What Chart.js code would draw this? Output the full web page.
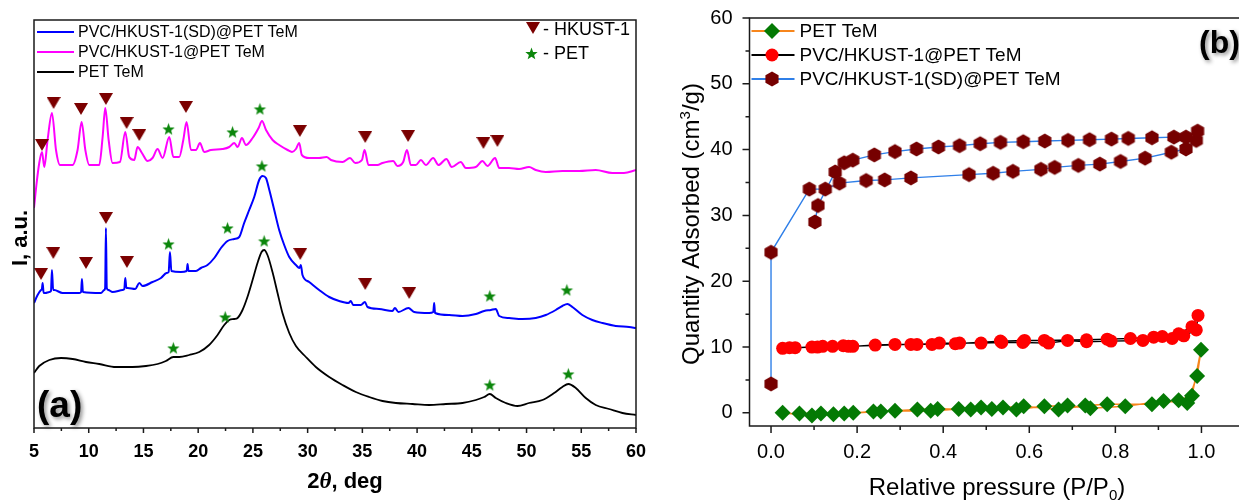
<!DOCTYPE html>
<html>
<head>
<meta charset="utf-8">
<script src="https://cdn.jsdelivr.net/npm/chart.js@4.4.1/dist/chart.umd.min.js"></script>
<style>
html, body { margin: 0; padding: 0; overflow: hidden; background: #fff; width: 1239px; height: 500px; }
canvas { position: absolute; top: 0; }
#painel-a { left: 0; }
#painel-b { left: 640px; }
</style>
</head>
<body>
<canvas id="painel-a" width="660" height="500"></canvas>
<canvas id="painel-b" width="610" height="500"></canvas>
<script>
// ---------- (a) Difratogramas: 2θ (graus) x intensidade (u.a.) ----------
const doisTetaPET = [
    5.00, 5.48, 6.40, 7.47, 8.53, 9.75, 10.96, 12.49, 14.00, 15.23,
    16.29, 17.05, 17.73, 18.27, 19.18, 20.10, 21.00, 21.77, 22.38, 22.84,
    23.30, 23.60, 24.05, 24.50, 24.97, 25.42, 25.79, 26.03, 26.33, 26.79,
    27.25, 27.70, 28.32, 28.93, 29.84, 30.75, 31.97, 33.19, 34.40, 35.62,
    36.84, 38.06, 39.58, 41.10, 42.63, 44.15, 45.37, 46.13, 46.64, 47.19,
    48.10, 49.17, 50.23, 51.45, 52.52, 53.27, 53.82, 54.50, 55.41, 56.32,
    57.54, 58.76, 60.00
];
const intensPET = [
    55, 62, 68, 70, 69, 66, 64, 61, 61, 62,
    64, 67, 71, 71, 73, 76, 83, 93, 103, 108,
    109, 110, 118, 131, 148, 165, 176, 178, 173, 156,
    135, 115, 95, 82, 71, 61, 51, 43, 36, 31,
    27, 25, 24, 23, 24, 25, 28, 31, 34, 30,
    25, 22, 25, 28, 35, 41, 44, 40, 30, 23,
    19, 15, 13
];

// PVC/HKUST-1@PET TeM
const doisTetaHK = [
    5.00, 5.24, 5.48, 5.73, 5.94, 6.24, 6.64, 7.01, 7.37, 8.53,
    8.98, 9.35, 9.69, 10.05, 10.96, 11.27, 11.51, 11.82, 12.18, 12.85,
    13.34, 13.70, 14.16, 14.46, 14.86, 15.38, 15.83, 16.29, 16.75, 17.36,
    17.73, 18.27, 18.64, 18.94, 19.34, 19.80, 20.16, 20.55, 21.16, 22.22,
    22.84, 23.30, 23.60, 24.00, 24.36, 24.97, 25.52, 25.83, 26.20, 26.80,
    27.40, 28.17, 28.57, 28.93, 29.23, 29.47, 30.14, 31.05, 31.73, 32.13,
    33.19, 33.87, 34.35, 34.96, 35.20, 35.56, 36.38, 36.84, 37.82, 38.20,
    38.73, 39.07, 39.43, 39.89, 40.35, 40.80, 41.47, 41.95, 42.68, 43.17,
    43.99, 44.45, 45.36, 45.97, 46.43, 47.13, 47.50, 48.40, 49.32, 50.23,
    50.84, 51.76, 53.27, 54.80, 56.32, 57.84, 58.90, 60.00
];
const intensHK = [
    220, 245, 265, 276, 261, 288, 315, 278, 263, 263,
    278, 306, 278, 263, 263, 291, 320, 288, 265, 266,
    296, 271, 268, 281, 275, 267, 270, 279, 270, 291,
    271, 271, 288, 306, 278, 278, 285, 276, 278, 279,
    281, 285, 281, 290, 283, 290, 300, 307, 298, 288,
    283, 278, 276, 279, 285, 273, 270, 270, 271, 268,
    266, 270, 265, 268, 278, 263, 263, 265, 267, 262,
    266, 278, 263, 263, 268, 263, 270, 263, 269, 261,
    266, 260, 261, 267, 262, 270, 260, 260, 259, 261,
    258, 256, 257, 257, 258, 255, 255, 258
];

// PVC/HKUST-1(SD)@PET TeM
const doisTetaSD = [
    5.00, 5.33, 5.64, 5.72, 5.79, 5.88, 6.03, 6.40, 6.55, 6.64,
    6.75, 6.85, 7.61, 9.14, 9.30, 9.38, 9.47, 11.12, 11.42, 11.50,
    11.57, 11.65, 11.79, 12.18, 13.09, 13.25, 13.34, 13.44, 13.55, 14.25,
    14.62, 14.92, 15.83, 16.60, 17.11, 17.30, 17.42, 17.55, 18.42, 18.95,
    19.03, 19.12, 19.80, 20.25, 20.85, 21.47, 22.08, 22.68, 23.29, 23.75,
    24.20, 24.66, 25.12, 25.57, 25.88, 26.19, 26.50, 26.95, 27.40, 27.86,
    28.32, 28.93, 29.25, 29.38, 29.53, 30.14, 31.05, 31.97, 32.88, 33.73,
    33.95, 34.16, 34.86, 35.23, 35.47, 36.53, 37.75, 37.97, 38.30, 39.21,
    39.73, 41.10, 41.48, 41.56, 41.64, 42.93, 44.15, 45.37, 46.13, 46.74,
    47.19, 47.50, 48.41, 49.62, 50.84, 51.76, 52.67, 53.27, 53.73, 54.19,
    55.10, 56.01, 56.93, 58.15, 59.37, 60.00
];
const intensSD = [
    125, 133, 138, 139, 145, 135, 135, 136, 137, 158,
    138, 138, 135, 135, 136, 149, 136, 135, 138, 140,
    200, 140, 138, 136, 138, 139, 150, 140, 140, 139,
    145, 142, 146, 150, 155, 156, 176, 157, 156, 157,
    164, 157, 157, 160, 163, 170, 180, 187, 189, 191,
    205, 218, 231, 248, 252, 250, 238, 218, 198, 183,
    171, 163, 160, 163, 153, 146, 138, 131, 127, 125,
    127, 123, 123, 126, 121, 119, 117, 120, 116, 120,
    116, 115, 116, 125, 115, 113, 112, 114, 117, 118,
    119, 112, 110, 109, 110, 113, 118, 122, 124, 121,
    113, 108, 105, 102, 101, 100
];

// picos identificados: ▼ HKUST-1 e ★ PET
const hkustX = [5.73, 6.79, 9.29, 11.57, 13.46, 14.62, 18.88, 29.29, 35.26, 39.18, 46.06, 47.34,
                5.64, 6.76, 9.75, 11.57, 13.49, 29.32, 35.26, 39.28];
const hkustY = [283, 325, 319, 329, 305, 293, 321, 297, 291, 292, 285, 287,
                154, 175, 165, 210, 166, 174, 144, 135];
const petX = [17.29, 23.14, 25.64, 17.29, 22.68, 25.82, 46.64, 53.68, 17.73, 22.47, 26.03, 46.64, 53.82];
const petY = [299, 296, 319, 184, 200, 262, 132, 138, 80, 111, 187, 43, 54];

const ticksDoisTeta = [5, 10, 15, 20, 25, 30, 35, 40, 45, 50, 55, 60];

// ---------- (b) Isotermas: P/P0 x quantidade adsorvida (cm3/g) ----------
// adsorção (crescente) seguida da dessorção (decrescente)
const pressaoPET = [0.027, 0.095, 0.145, 0.191, 0.255, 0.340, 0.387, 0.464, 0.513, 0.570, 0.635, 0.689,
                    0.742, 0.823, 0.912, 0.967, 0.990, 0.999,
                    0.978, 0.947, 0.885, 0.781, 0.730, 0.668, 0.587, 0.539, 0.488, 0.436, 0.371, 0.288,
                    0.238, 0.170, 0.116, 0.066];
const quantPET = [0.0, -0.4, -0.2, 0.0, 0.2, 0.5, 0.6, 0.5, 0.6, 0.5, 1.0, 1.1,
                  0.7, 1.0, 1.8, 1.5, 5.6, 9.6,
                  2.6, 1.9, 1.3, 1.3, 1.1, 0.5, 1.0, 0.8, 0.8, 0.6, 0.3, 0.3,
                  0.2, -0.1, -0.1, -0.1];

const pressaoHK = [0.027, 0.043, 0.056, 0.095, 0.120, 0.143, 0.168, 0.190, 0.242, 0.288, 0.339, 0.391,
                   0.438, 0.488, 0.536, 0.585, 0.645, 0.689, 0.733, 0.790, 0.864, 0.909, 0.947, 0.978, 0.992,
                   0.988, 0.959, 0.932, 0.889, 0.835, 0.781, 0.733, 0.635, 0.589, 0.533, 0.428, 0.374,
                   0.325, 0.180, 0.108];
const quantHK = [9.8, 9.9, 9.9, 10.0, 10.1, 10.1, 10.2, 10.1, 10.3, 10.4, 10.4, 10.6,
                 10.6, 10.6, 10.7, 10.7, 10.6, 11.0, 10.8, 10.9, 11.0, 11.6, 12.0, 13.1, 14.8,
                 12.6, 11.7, 11.3, 11.5, 11.3, 11.2, 11.1, 11.0, 11.0, 10.9, 10.5, 10.4,
                 10.4, 10.1, 10.0];

const pressaoSD = [0, 0, 0.089, 0.126, 0.159, 0.221, 0.264, 0.325, 0.460, 0.516, 0.562, 0.627,
                   0.659, 0.714, 0.764, 0.812, 0.869, 0.930, 0.964, 0.988, 0.991,
                   0.964, 0.936, 0.885, 0.830, 0.791, 0.740, 0.690, 0.636, 0.586, 0.533, 0.486,
                   0.438, 0.389, 0.338, 0.288, 0.240, 0.190, 0.170, 0.149, 0.109, 0.102];
const quantSD = [4.4, 24.4, 34.0, 34.0, 34.9, 35.3, 35.4, 35.7, 36.2, 36.4, 36.7, 37.0,
                 37.3, 37.6, 37.8, 38.2, 38.7, 39.6, 40.1, 41.4, 42.8,
                 41.9, 41.9, 41.8, 41.7, 41.6, 41.5, 41.4, 41.3, 41.2, 41.1, 40.9,
                 40.6, 40.4, 40.1, 39.7, 39.2, 38.4, 38.0, 36.6, 31.5, 29.0];

const ticksPressao = [0, 0.2, 0.4, 0.6, 0.8, 1.0];
const ticksQuantidade = [0, 10, 20, 30, 40, 50, 60];

const FONTE = '"Liberation Sans", Arial, sans-serif';

// Junta x e y em pontos {x, y}
function pares(xs, ys) {
    return xs.map((x, i) => ({ x: x, y: ys[i] }));
}

// Marcadores desenhados em pequenos canvas
function criarTriangulo(largura, altura, cor) {
    const c = document.createElement('canvas');
    c.width = largura; c.height = altura;
    const g = c.getContext('2d');
    g.fillStyle = cor;
    g.beginPath();
    g.moveTo(0, 0); g.lineTo(largura, 0); g.lineTo(largura / 2, altura);
    g.closePath(); g.fill();
    return c;
}

function criarEstrela(raio, cor) {
    const c = document.createElement('canvas');
    const s = Math.ceil(raio * 2 + 2);
    c.width = s; c.height = s;
    const g = c.getContext('2d');
    g.fillStyle = cor;
    g.beginPath();
    for (let i = 0; i < 10; i++) {
        const r = i % 2 === 0 ? raio : raio * 0.42;
        const ang = -Math.PI / 2 + i * Math.PI / 5;
        g.lineTo(s / 2 + r * Math.cos(ang), s / 2 + 0.6 + r * Math.sin(ang));
    }
    g.closePath(); g.fill();
    return c;
}

function criarHexagono(raio, cor) {
    const c = document.createElement('canvas');
    const s = Math.ceil(raio * 2 + 2);
    c.width = s; c.height = s;
    const g = c.getContext('2d');
    g.fillStyle = cor;
    g.beginPath();
    for (let i = 0; i < 6; i++) {
        const ang = -Math.PI / 2 + i * Math.PI / 3;
        g.lineTo(s / 2 + raio * Math.cos(ang), s / 2 + raio * Math.sin(ang));
    }
    g.closePath(); g.fill();
    return c;
}

const imgTriangulo = criarTriangulo(14, 12, '#7b0000');
const imgEstrela = criarEstrela(6.5, '#0b860b');
const imgHexagono = criarHexagono(7.6, '#760000');

// Texto com partes de fontes diferentes (índices, símbolos), centrado em x
function escreverPartes(ctx, partes, xCentro, yBase) {
    let total = 0;
    partes.forEach(p => { ctx.font = p.fonte; total += ctx.measureText(p.texto).width; });
    let x = xCentro - total / 2;
    ctx.textAlign = 'left';
    ctx.textBaseline = 'alphabetic';
    partes.forEach(p => {
        ctx.font = p.fonte;
        ctx.fillText(p.texto, x, yBase + (p.dy || 0));
        x += ctx.measureText(p.texto).width;
    });
}

// ---------- Painel (a) ----------
const curvaSD = {
    label: 'PVC/HKUST-1(SD)@PET TeM', data: pares(doisTetaSD, intensSD),
    borderColor: '#0000ff', borderWidth: 2, pointRadius: 0, cubicInterpolationMode: 'monotone'
};
const curvaHK = {
    label: 'PVC/HKUST-1@PET TeM', data: pares(doisTetaHK, intensHK),
    borderColor: '#ff00ff', borderWidth: 2, pointRadius: 0, cubicInterpolationMode: 'monotone'
};
const curvaPET = {
    label: 'PET TeM', data: pares(doisTetaPET, intensPET),
    borderColor: '#000000', borderWidth: 1.8, pointRadius: 0, cubicInterpolationMode: 'monotone'
};

const decoracaoA = {
    id: 'decoracaoA',
    afterDraw(chart) {
        const ctx = chart.ctx;
        const a = chart.chartArea;
        const ex = chart.scales.x;
        ctx.save();
        ctx.fillStyle = '#000';

        // moldura
        ctx.strokeStyle = '#1a1a1a';
        ctx.lineWidth = 1.5;
        ctx.strokeRect(a.left, a.top, a.right - a.left, a.bottom - a.top);

        // marcas do eixo x
        ctx.beginPath();
        ticksDoisTeta.forEach((v, i) => {
            const px = ex.getPixelForValue(v);
            ctx.moveTo(px, a.bottom); ctx.lineTo(px, a.bottom + 5);
            if (i < ticksDoisTeta.length - 1) {
                const pm = ex.getPixelForValue(v + 2.5);
                ctx.moveTo(pm, a.bottom); ctx.lineTo(pm, a.bottom + 3);
            }
        });
        ctx.stroke();

        // legenda das curvas
        ctx.font = '16px ' + FONTE;
        ctx.textAlign = 'left';
        ctx.textBaseline = 'middle';
        [curvaSD, curvaHK, curvaPET].forEach((c, i) => {
            const y = a.top + 12 + i * 20;
            ctx.strokeStyle = c.borderColor;
            ctx.lineWidth = 2;
            ctx.beginPath();
            ctx.moveTo(a.left + 3, y); ctx.lineTo(a.left + 40, y);
            ctx.stroke();
            ctx.fillText(c.label, a.left + 44, y + 1);
        });

        // legenda dos símbolos
        ctx.font = '18px ' + FONTE;
        ctx.drawImage(imgTriangulo, 526, 22);
        ctx.fillText('- HKUST-1', 543, 30);
        ctx.drawImage(imgEstrela, 524, 46);
        ctx.fillText('- PET', 543, 54);

        // títulos dos eixos
        escreverPartes(ctx, [
            { texto: '2', fonte: 'bold 22px ' + FONTE },
            { texto: 'θ', fonte: 'italic bold 23px "Liberation Serif", serif' },
            { texto: ', deg', fonte: 'bold 22px ' + FONTE }
        ], (a.left + a.right) / 2 + 10, 488);

        ctx.save();
        ctx.translate(27, 238);
        ctx.rotate(-Math.PI / 2);
        ctx.font = 'bold 22px ' + FONTE;
        ctx.textAlign = 'center';
        ctx.textBaseline = 'alphabetic';
        ctx.fillText('I, a.u.', 0, 0);
        ctx.restore();

        // rótulo do painel
        ctx.save();
        ctx.shadowColor = 'rgba(0,0,0,0.45)';
        ctx.shadowBlur = 4;
        ctx.shadowOffsetX = 2;
        ctx.shadowOffsetY = 2;
        ctx.font = 'bold 37px ' + FONTE;
        ctx.textAlign = 'left';
        ctx.textBaseline = 'alphabetic';
        ctx.fillText('(a)', a.left + 3, 417);
        ctx.restore();

        ctx.restore();
    }
};

new Chart(document.getElementById('painel-a'), {
    type: 'line',
    data: {
        datasets: [
            { label: 'HKUST-1', data: pares(hkustX, hkustY), showLine: false, pointStyle: imgTriangulo, pointRadius: 7 },
            { label: 'PET', data: pares(petX, petY), showLine: false, pointStyle: imgEstrela, pointRadius: 7 },
            curvaSD, curvaHK, curvaPET
        ]
    },
    options: {
        responsive: false,
        animation: false,
        events: [],
        layout: { autoPadding: false, padding: { left: 0, top: 20, right: 24, bottom: 0 } },
        scales: {
            x: {
                type: 'linear', min: 5, max: 60,
                afterBuildTicks: s => { s.ticks = ticksDoisTeta.map(v => ({ value: v })); },
                afterFit: s => { s.height = 72; s.paddingLeft = 0; s.paddingRight = 0; },
                grid: { display: false },
                border: { display: false },
                ticks: { color: '#000', padding: 5, font: { family: FONTE, size: 18, weight: 'bold' }, maxRotation: 0 }
            },
            y: {
                min: 0, max: 408,
                afterFit: s => { s.width = 34; s.paddingTop = 0; s.paddingBottom = 0; },
                grid: { display: false },
                border: { display: false },
                ticks: { display: false }
            }
        },
        plugins: { legend: { display: false }, tooltip: { enabled: false } }
    },
    plugins: [decoracaoA]
});

// ---------- Painel (b) ----------
const serieB = [
    {
        label: 'PET TeM', data: pares(pressaoPET, quantPET),
        borderColor: '#f7861c', borderWidth: 1.6,
        pointStyle: 'rectRot', pointRadius: 8, pointBackgroundColor: '#047a04', pointBorderWidth: 0
    },
    {
        label: 'PVC/HKUST-1@PET TeM', data: pares(pressaoHK, quantHK),
        borderColor: '#000000', borderWidth: 1.4,
        pointStyle: 'circle', pointRadius: 6.5, pointBackgroundColor: '#ff0000', pointBorderWidth: 0
    },
    {
        label: 'PVC/HKUST-1(SD)@PET TeM', data: pares(pressaoSD, quantSD),
        borderColor: '#2f7fe8', borderWidth: 1.4,
        pointStyle: imgHexagono, pointRadius: 7
    }
];

const decoracaoB = {
    id: 'decoracaoB',
    afterDraw(chart) {
        const ctx = chart.ctx;
        const a = chart.chartArea;
        const ex = chart.scales.x;
        const ey = chart.scales.y;
        ctx.save();
        ctx.fillStyle = '#000';

        // moldura
        ctx.strokeStyle = '#1a1a1a';
        ctx.lineWidth = 1.5;
        ctx.strokeRect(a.left, a.top, a.right - a.left, a.bottom - a.top);

        // marcas dos eixos
        ctx.beginPath();
        ticksPressao.forEach(v => {
            const px = ex.getPixelForValue(v);
            ctx.moveTo(px, a.bottom); ctx.lineTo(px, a.bottom + 7);
            const pm = ex.getPixelForValue(v + 0.1);
            ctx.moveTo(pm, a.bottom); ctx.lineTo(pm, a.bottom + 4);
        });
        ticksQuantidade.forEach((v, i) => {
            const py = ey.getPixelForValue(v);
            ctx.moveTo(a.left, py); ctx.lineTo(a.left - 7, py);
            if (i < ticksQuantidade.length - 1) {
                const pm = ey.getPixelForValue(v + 5);
                ctx.moveTo(a.left, pm); ctx.lineTo(a.left - 4, pm);
            }
        });
        ctx.stroke();

        // legenda
        ctx.font = '19px ' + FONTE;
        ctx.textAlign = 'left';
        ctx.textBaseline = 'middle';
        serieB.forEach((s, i) => {
            const y = a.top + 13 + i * 24;
            const xm = a.left + 22.5;
            ctx.strokeStyle = s.borderColor;
            ctx.lineWidth = 1.8;
            ctx.beginPath();
            ctx.moveTo(a.left + 2, y); ctx.lineTo(a.left + 45, y);
            ctx.stroke();
            if (s.pointStyle === 'rectRot') {
                ctx.fillStyle = s.pointBackgroundColor;
                ctx.beginPath();
                ctx.moveTo(xm, y - 8); ctx.lineTo(xm + 8, y); ctx.lineTo(xm, y + 8); ctx.lineTo(xm - 8, y);
                ctx.closePath(); ctx.fill();
            } else if (s.pointStyle === 'circle') {
                ctx.fillStyle = s.pointBackgroundColor;
                ctx.beginPath();
                ctx.arc(xm, y, 6.5, 0, Math.PI * 2);
                ctx.fill();
            } else {
                ctx.drawImage(s.pointStyle, xm - s.pointStyle.width / 2, y - s.pointStyle.height / 2);
            }
            ctx.fillStyle = '#000';
            ctx.fillText(s.label, a.left + 50, y + 1);
        });

        // títulos dos eixos
        escreverPartes(ctx, [
            { texto: 'Relative pressure (P/P', fonte: '24px ' + FONTE },
            { texto: '0', fonte: '15px ' + FONTE, dy: 5 },
            { texto: ')', fonte: '24px ' + FONTE }
        ], (a.left + a.right) / 2, 495);

        ctx.save();
        ctx.translate(59, (a.top + a.bottom) / 2 + 2);
        ctx.rotate(-Math.PI / 2);
        escreverPartes(ctx, [
            { texto: 'Quantity Adsorbed (cm', fonte: '24px ' + FONTE },
            { texto: '3', fonte: '15px ' + FONTE, dy: -9 },
            { texto: '/g)', fonte: '24px ' + FONTE }
        ], 0, 0);
        ctx.restore();

        // rótulo do painel
        ctx.save();
        ctx.shadowColor = 'rgba(0,0,0,0.45)';
        ctx.shadowBlur = 4;
        ctx.shadowOffsetX = 2;
        ctx.shadowOffsetY = 2;
        ctx.font = 'bold 32px ' + FONTE;
        ctx.textAlign = 'left';
        ctx.textBaseline = 'alphabetic';
        ctx.fillText('(b)', 559, 53);
        ctx.restore();

        ctx.restore();
    }
};

new Chart(document.getElementById('painel-b'), {
    type: 'line',
    data: { datasets: serieB },
    options: {
        responsive: false,
        animation: false,
        events: [],
        layout: { autoPadding: false, padding: { left: 0, top: 18, right: 5.5, bottom: 0 } },
        scales: {
            x: {
                type: 'linear', min: -0.05, max: 1.1,
                afterBuildTicks: s => { s.ticks = ticksPressao.map(v => ({ value: v })); },
                afterFit: s => { s.height = 74; s.paddingLeft = 0; s.paddingRight = 0; },
                grid: { display: false },
                border: { display: false },
                ticks: { color: '#000', padding: 6, font: { family: FONTE, size: 20 }, maxRotation: 0,
                         callback: v => v.toFixed(1) }
            },
            y: {
                min: -2, max: 60,
                afterBuildTicks: s => { s.ticks = ticksQuantidade.map(v => ({ value: v })); },
                afterFit: s => { s.width = 109.5; s.paddingTop = 0; s.paddingBottom = 0; },
                grid: { display: false },
                border: { display: false },
                ticks: { color: '#000', padding: 9, font: { family: FONTE, size: 20 } }
            }
        },
        plugins: { legend: { display: false }, tooltip: { enabled: false } }
    },
    plugins: [decoracaoB]
});
</script>
</body>
</html>
